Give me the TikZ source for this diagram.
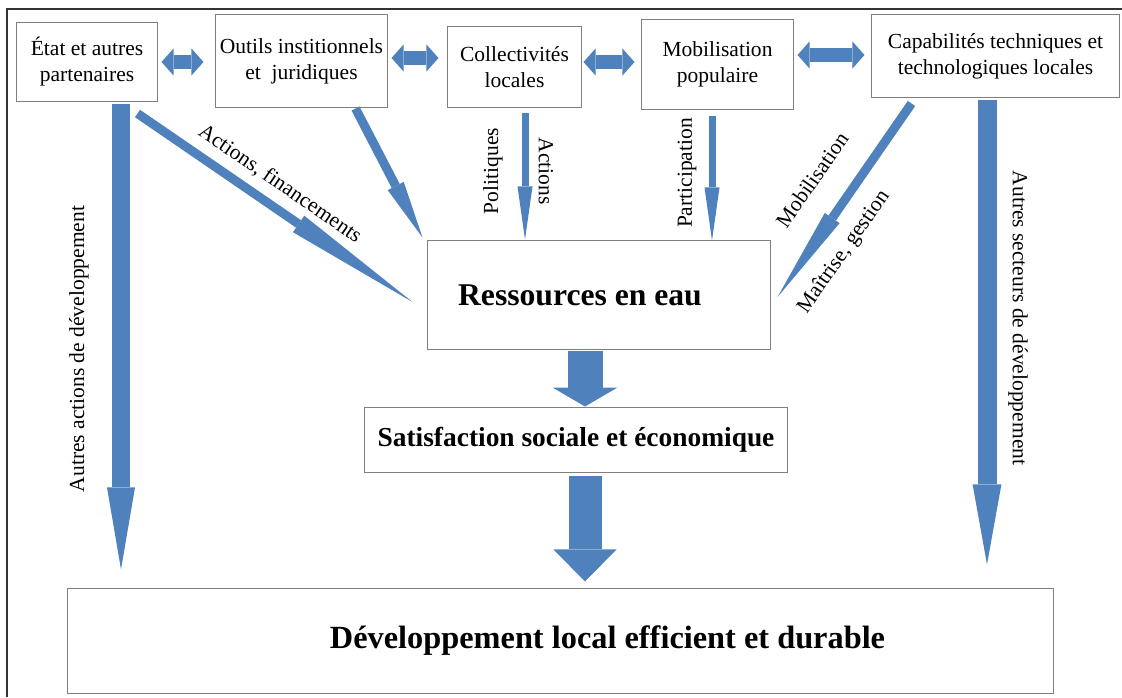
\documentclass[tikz,border=0pt]{standalone}
\usepackage{fontspec}
\setmainfont{Liberation Serif}
\usetikzlibrary{arrows.meta, positioning, calc}
\definecolor{waterblue}{HTML}{4F81BD}
\definecolor{boxgray}{HTML}{7F7F7F}

\begin{document}
\begin{tikzpicture}[x=0.025cm, y=-0.025cm,
    box/.style={rectangle, draw=boxgray, line width=0.7pt, fill=white, align=center, inner sep=2pt, font=\fontsize{15.3}{18.5}\selectfont},
    bigbox/.style={rectangle, draw=boxgray, line width=0.7pt, fill=white, inner sep=2pt},
    lbl/.style={inner sep=0pt, font=\fontsize{15.3}{18}\selectfont},
    flow/.style n args={3}{draw=waterblue, line width=#1, -{Triangle[length=#2, width=#3, line width=0pt]}},
    dblarr/.style={draw=waterblue, line width=0.325cm, {Triangle[length=0.3cm, width=0.675cm, line width=0pt]}-{Triangle[length=0.3cm, width=0.675cm, line width=0pt]}}
  ]
  \useasboundingbox (0,0) rectangle (1122,697);
  \draw[line width=1pt, black!80] (7,697) -- (7,9) -- (1122,9);

  % Top row
  \node[box, minimum width=3.5cm, minimum height=1.95cm] (etat) at (87,62) {État et autres\\partenaires};
  \node[box, minimum width=4.275cm, minimum height=2.3cm] (outils) at (301.5,61) {Outils institionnels\\et~ juridiques};
  \node[box, minimum width=3.325cm, minimum height=2cm] (collect) at (514.5,67) {Collectivités\\locales};
  \node[box, minimum width=3.775cm, minimum height=2.225cm] (mobil) at (717.5,64.5) {Mobilisation\\populaire};
  \node[box, minimum width=6.175cm, minimum height=2.05cm] (capab) at (995.5,56) {Capabilités techniques et\\technologiques locales};

  % Centre and bottom
  \node[bigbox, minimum width=8.55cm, minimum height=2.7cm, font=\fontsize{22.5}{26}\selectfont\bfseries] (eau) at (599,295) {Ressources en eau\hspace*{0.95cm}};
  \node[bigbox, minimum width=10.55cm, minimum height=1.625cm, font=\fontsize{19.5}{23}\selectfont\bfseries] (satis) at (576,439.5) {Satisfaction sociale et économique};
  \node[bigbox, minimum width=24.625cm, minimum height=2.625cm, font=\fontsize{23}{27}\selectfont\bfseries] (devel) at (560.5,640.5) {\hspace*{2.35cm}Développement local efficient et durable};

  % Links between the partners
  \draw[dblarr] ($(etat.east)+(4,0)$) -- ($(etat.east -| outils.west)+(-12,0)$);
  \draw[dblarr] ($(outils.east)+(4,-3)$) -- ($(outils.east -| collect.west)+(-9,-3)$);
  \draw[dblarr] ($(collect.east)+(2,-5)$) -- ($(collect.east -| mobil.west)+(-7,-5)$);
  \draw[dblarr] ($(mobil.east)+(4,-9.5)$) -- ($(mobil.east -| capab.west)+(-7,-9.5)$);

  % Flows towards the water resources
  \draw[flow={0.225cm}{3.45cm}{0.5cm}] ($(etat.south east)+(-20,12)$) -- ($(eau.west)+(-15,7)$);
  \draw[flow={0.225cm}{1.45cm}{0.45cm}] ($(outils.south east)+(-32,1)$) -- ($(eau.north west)+(-5,-3)$);
  \coordinate (cs) at ($(collect.south)+(10.5,5)$);
  \draw[flow={0.175cm}{1.325cm}{0.375cm}] (cs) -- ($(cs |- eau.north)+(0,-1)$);
  \coordinate (ms) at ($(mobil.south)+(-5.5,6)$);
  \draw[flow={0.175cm}{1.325cm}{0.375cm}] (ms) -- (ms |- eau.north);
  \draw[flow={0.225cm}{2.4cm}{0.45cm}] ($(capab.south west)+(40,6)$) -- ($(eau.east)+(7,2)$);

  % Side flows to the development
  \coordinate (ls) at ($(etat.south)+(34,2)$);
  \draw[flow={0.425cm}{2.05cm}{0.7cm}] (ls) -- ($(ls |- devel.north)+(0,-18)$);
  \coordinate (rs) at ($(capab.south)+(-8.5,2)$);
  \draw[flow={0.475cm}{2cm}{0.72cm}] (rs) -- ($(rs |- devel.north)+(0,-23)$);

  % Main chain
  \coordinate (es) at ($(eau.south)+(-14,1)$);
  \draw[flow={0.875cm}{0.475cm}{1.625cm}] (es) -- (es |- satis.north);
  \coordinate (ss) at ($(satis.south)+(9,3)$);
  \draw[flow={0.825cm}{0.8cm}{1.575cm}] (ss) -- ($(ss |- devel.north)+(0,-6)$);

  % Labels
  \node[lbl, rotate=-34.4] (finlbl) at (280,184) {Actions, financements};
  \node[lbl, rotate=90] (pollbl) at (493,171) {Politiques};
  \node[lbl, rotate=-90] (actlbl) at (546,171) {Actions};
  \node[lbl, rotate=90] (partlbl) at (687,173) {Participation};
  \node[lbl, rotate=55] (moblbl) at (812,180) {Mobilisation};
  \node[lbl, rotate=55] (gestlbl) at (844,252) {Maîtrise, gestion};
  \node[lbl, rotate=90] (autlbl) at (79,349) {Autres actions de développement};
  \node[lbl, rotate=-90] (seclbl) at (1018,318) {Autres secteurs de développement};
\end{tikzpicture}
\end{document}
